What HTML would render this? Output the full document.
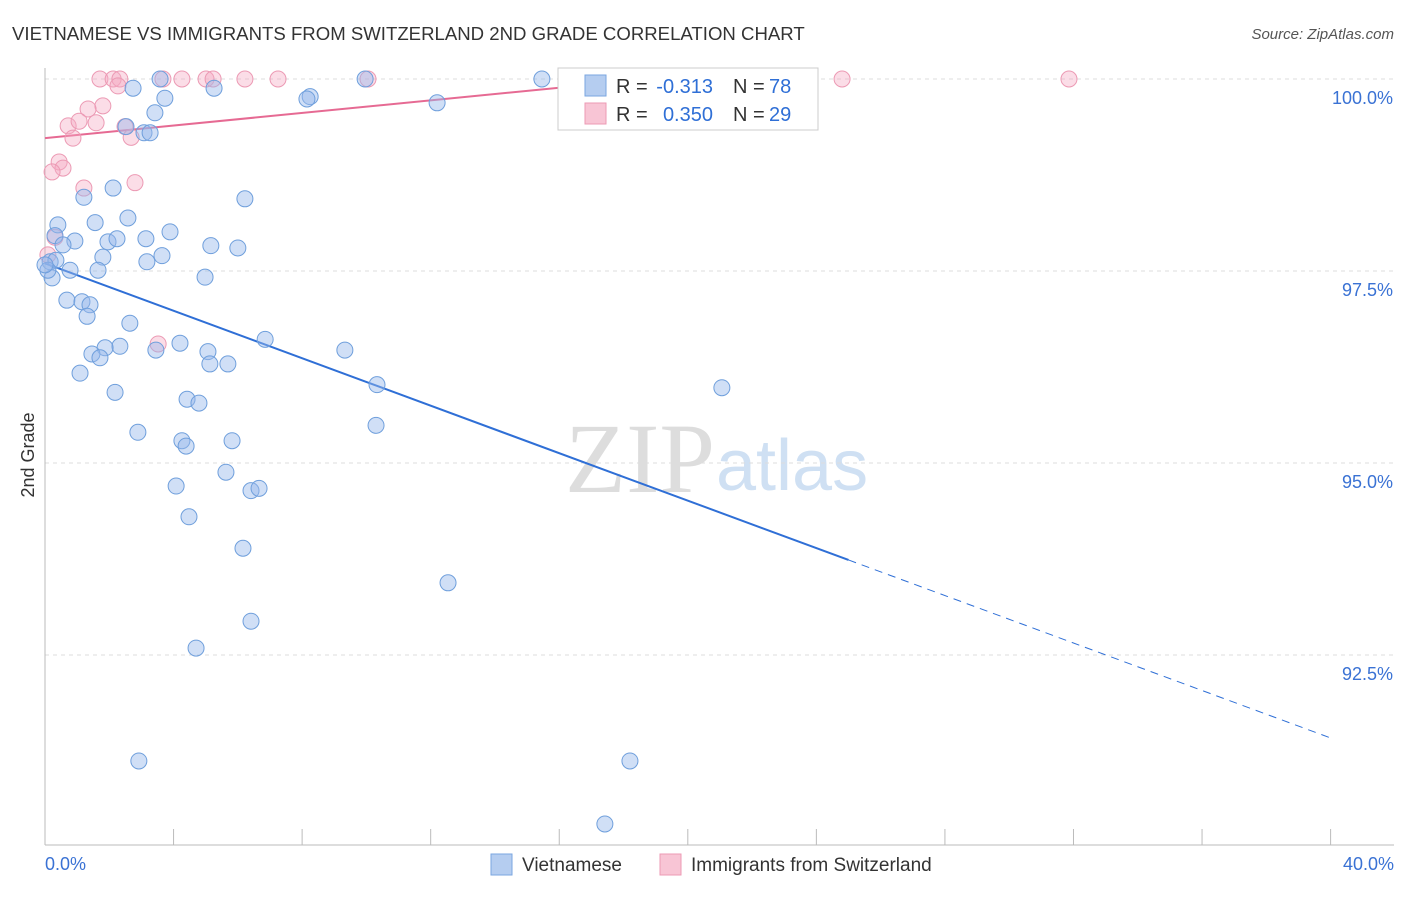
<!DOCTYPE html>
<html><head><meta charset="utf-8"><style>
body{margin:0;background:#fff;font-family:"Liberation Sans",sans-serif;}
</style></head><body>
<svg width="1406" height="892" xmlns="http://www.w3.org/2000/svg" id="chart">
<text x="12" y="40" font-size="18.6" fill="#333">VIETNAMESE VS IMMIGRANTS FROM SWITZERLAND 2ND GRADE CORRELATION CHART</text>
<text x="1394" y="39" font-size="15" fill="#555" font-style="italic" text-anchor="end">Source: ZipAtlas.com</text>
<text x="34" y="455" font-size="18" fill="#333" transform="rotate(-90 34 455)" text-anchor="middle">2nd Grade</text>
<text x="715" y="492" font-size="100" fill="#ddd" font-family="Liberation Serif,serif" text-anchor="end">ZIP</text>
<text x="716" y="490" font-size="72" fill="#cfe0f3">atlas</text>
<g id="grid"></g><g id="axes"></g><g id="trend"></g><g id="pts"></g>
<g>
<rect x="558" y="68" width="260" height="62" fill="#fff" stroke="#ccc"/>
<rect x="585" y="75" width="21" height="21" fill="#b5cdf0" stroke="#7aa6e0"/>
<rect x="585" y="103" width="21" height="21" fill="#f8c5d5" stroke="#ec9ab4"/>
<text x="616" y="93" font-size="20" fill="#333">R =</text>
<text x="713" y="93" font-size="20" fill="#2f6fd6" text-anchor="end">-0.313</text>
<text x="733" y="93" font-size="20" fill="#333">N =</text>
<text x="769" y="93" font-size="20" fill="#2f6fd6">78</text>
<text x="616" y="121" font-size="20" fill="#333">R =</text>
<text x="713" y="121" font-size="20" fill="#2f6fd6" text-anchor="end">0.350</text>
<text x="733" y="121" font-size="20" fill="#333">N =</text>
<text x="769" y="121" font-size="20" fill="#2f6fd6">29</text>
</g>
<g>
<rect x="491" y="854" width="21" height="21" fill="#b5cdf0" stroke="#7aa6e0"/>
<text x="522" y="871" font-size="19" fill="#333">Vietnamese</text>
<rect x="660" y="854" width="21" height="21" fill="#f8c5d5" stroke="#ec9ab4"/>
<text x="691" y="871" font-size="19" fill="#333">Immigrants from Switzerland</text>
</g>
</svg>
<script>
const blueX=[3.58,9.96,15.46,2.74,5.26,3.73,8.25,8.15,12.2,3.42,2.52,3.08,3.27,2.12,6.22,1.21,0.40,1.56,2.58,0.31,3.89,0.93,0.56,1.96,2.24,3.14,5.16,6.0,1.80,3.17,3.64,0.16,0.34,0.78,1.65,0.22,4.98,0.68,1.15,1.40,1.31,2.64,6.85,4.2,2.33,1.87,1.46,3.45,5.07,9.33,1.71,5.13,5.69,1.09,10.33,21.06,2.18,4.42,4.79,10.3,2.89,4.26,4.39,5.82,5.63,4.08,6.41,6.66,4.48,6.16,12.54,6.41,4.7,2.92,18.2,17.42,0.09,0.0];
const blueY=[100,100,100,99.88,99.88,99.75,99.77,99.74,99.69,99.56,99.38,99.30,99.30,98.58,98.44,98.46,98.10,98.13,98.19,97.96,98.01,97.89,97.84,97.88,97.92,97.92,97.83,97.80,97.68,97.62,97.70,97.62,97.64,97.51,97.51,97.41,97.42,97.12,97.10,97.06,96.91,96.82,96.61,96.56,96.52,96.50,96.42,96.47,96.45,96.47,96.37,96.29,96.29,96.17,96.02,95.98,95.92,95.83,95.78,95.49,95.40,95.29,95.22,95.29,94.88,94.70,94.64,94.67,94.30,93.89,93.44,92.94,92.59,91.12,91.12,90.30,97.51,97.58];
const pinkX=[1.71,2.12,2.33,3.67,4.26,5.01,5.23,6.22,7.25,10.05,24.8,31.86,2.27,1.80,1.34,1.59,0.72,1.06,2.49,2.68,0.87,0.44,0.56,0.22,1.21,2.80,3.52,0.31,0.09];
const pinkY=[100,100,100,100,100,100,100,100,100,100,100,100,99.91,99.65,99.61,99.43,99.39,99.45,99.38,99.24,99.23,98.92,98.84,98.79,98.58,98.65,96.55,97.94,97.71];
const yTicks=[100,97.5,95,92.5];
const yTickLabels=["100.0%","97.5%","95.0%","92.5%"];
const blueTrend=[97.60,91.42];
const pinkTrend=[99.23,0.041];
const NS="http://www.w3.org/2000/svg";
const sx=v=>45+v*32.14, sy=v=>79+(100-v)*76.8;
function mk(tag,attrs,parent){const e=document.createElementNS(NS,tag);for(const k in attrs)e.setAttribute(k,attrs[k]);document.getElementById(parent).appendChild(e);return e;}
yTicks.forEach((t,i)=>{
 const g=mk('line',{x1:45,x2:1394,y1:sy(t),y2:sy(t),stroke:'#ddd','stroke-dasharray':'4,4'},'grid');
 
 
 const l=mk('text',{x:1393,y:sy(t)+25,'font-size':18,fill:'#3a72d4','text-anchor':'end'},'grid');
 l.textContent=yTickLabels[i];
 
 
});
const ax=mk('line',{x1:45,x2:45,y1:68,y2:845,stroke:'#bbb'},'axes');


const bx=mk('line',{x1:45,x2:1394,y1:845,y2:845,stroke:'#bbb'},'axes');


for(let i=0;i<=10;i++){const t=mk('line',{x1:sx(i*4),x2:sx(i*4),y1:829,y2:845,stroke:'#bbb'},'axes');
 
 }
const xl0=mk('text',{x:45,y:870,'font-size':18,fill:'#3a72d4'},'axes');xl0.textContent='0.0%';


const xl1=mk('text',{x:1394,y:870,'font-size':18,fill:'#3a72d4','text-anchor':'end'},'axes');xl1.textContent='40.0%';


const bAt=v=>blueTrend[0]+(blueTrend[1]-blueTrend[0])*v/40;
const b1=mk('line',{x1:sx(0),y1:sy(bAt(0)),x2:sx(25),y2:sy(bAt(25)),stroke:'#2f6fd6','stroke-width':2},'trend');


const b2=mk('line',{x1:sx(25),y1:sy(bAt(25)),x2:sx(40),y2:sy(bAt(40)),stroke:'#2f6fd6','stroke-width':1,'stroke-dasharray':'8,6'},'trend');


const p1=mk('line',{x1:sx(0),y1:sy(pinkTrend[0]),x2:sx(20),y2:sy(pinkTrend[0]+pinkTrend[1]*20),stroke:'#e66a93','stroke-width':2},'trend');


pinkX.forEach((x,i)=>{const c=mk('circle',{cx:sx(x),cy:sy(pinkY[i]),r:8,fill:'rgba(245,170,195,0.4)',stroke:'#ec9ab4','stroke-width':1},'pts');
 
 });
blueX.forEach((x,i)=>{const c=mk('circle',{cx:sx(x),cy:sy(blueY[i]),r:8,fill:'rgba(150,185,235,0.45)',stroke:'#6f9fdc','stroke-width':1},'pts');
 
 });
</script>
</body></html>
